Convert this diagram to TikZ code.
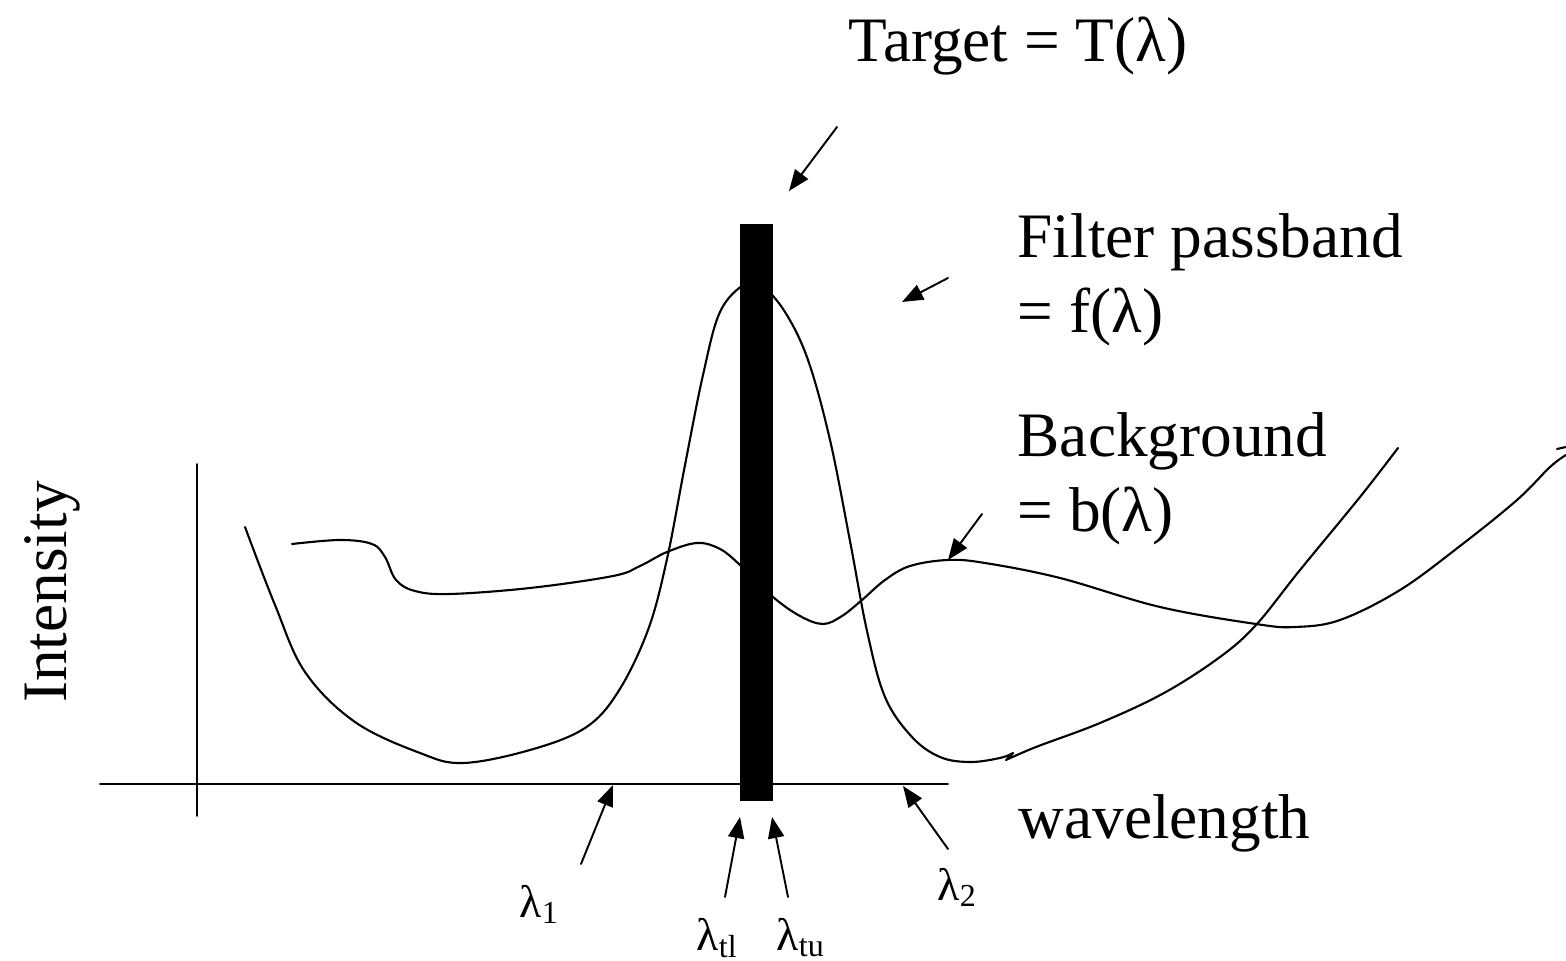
\documentclass[tikz,border=0pt]{standalone}
\usepackage{fontspec}
\setmainfont{Liberation Serif}
\usetikzlibrary{arrows.meta}
\tikzset{
  big/.style={font=\fontsize{18}{20}\selectfont, inner sep=0pt},
  small/.style={font=\fontsize{13}{15}\selectfont, inner sep=0pt},
  pointer/.style={-{Triangle[length=6pt,width=4.6pt]}, line width=0.55pt},
  curve/.style={line width=0.6pt},
}
\begin{document}
\begin{tikzpicture}[x=0.01cm, y=-0.01cm, line join=round, line cap=round]
	\useasboundingbox (0,0) rectangle (1566,961);
	% axes
	\draw[line width=0.5pt] (100,784)--(948,784);
	\draw[line width=0.5pt] (197,464)--(197,816);
	% filter passband f
	\draw[curve] plot[smooth, tension=0.6] coordinates {(245,527) (275,605) (305,672) (355,722) (420,753) (463,763) (530,750) (585,728) (618,692) (648,630) (667,559) (685,465) (703,375) (720,312) (745,284) (762,286) (785,312) (808,360) (830,440) (850,541) (867,631) (885,697) (912,737) (940,757) (970,762) (1000,758) (1013,753)}
		-- (1006,760)
		plot[smooth, tension=0.6] coordinates {(1006,760) (1036,747) (1100,723) (1164,693) (1220,657) (1256,625) (1300,570) (1360,497) (1398,448)};
	% background b
	\draw[curve] plot[smooth, tension=0.6] coordinates {(292,544) (340,540) (372,544) (385,557) (396,580) (415,591) (450,594) (530,588) (613,576) (640,566) (667,552) (697,543) (720,549) (740,565) (773,597) (800,616) (823,624) (842,616) (862,600) (885,580) (910,566) (948,560) (985,563) (1060,578) (1160,607) (1256,624) (1295,627) (1340,620) (1400,590) (1460,546) (1517,500) (1550,467) (1566,455)};
	\draw[curve] (1557,449)--(1566,447);
	% target band
	\node[fill, inner sep=0pt, minimum width=0.33cm, minimum height=5.77cm] (band) at (756.5,512.5) {};
	% labels
	\node[big, anchor=base west] (target) at (848,62) {Target = T(λ)};
	\node[big, anchor=base west] (filter) at (1017,258) {Filter passband};
	\node[big, anchor=base west] (filtereq) at (1017,333) {= f(λ)};
	\node[big, anchor=base west] (backgr) at (1017,457) {Background};
	\node[big, anchor=base west] (backgreq) at (1017,532) {= b(λ)};
	\node[big, anchor=base west] (wave) at (1018,838) {wavelength};
	\node[big, anchor=base, rotate=90] (inten) at (67,592) {Intensity};
	\node[small, anchor=base west] (lone) at (519,917) {λ\textsubscript{1}};
	\node[small, anchor=base west] (ltl) at (696,950) {λ\textsubscript{tl}};
	\node[small, anchor=base west] (ltu) at (776,950) {λ\textsubscript{tu}};
	\node[small, anchor=base west] (ltwo) at (937,900) {λ\textsubscript{2}};
	% pointers
	\coordinate (tgtTail) at (837,127);  \coordinate (tgtTip) at (789,191);
	\coordinate (filTail) at (948,278);  \coordinate (filTip) at (902,302);
	\coordinate (bgTail) at (982,514);   \coordinate (bgTip) at (948,560);
	\coordinate (loneTail) at (581,864); \coordinate (loneTip) at (613,785);
	\coordinate (ltlTail) at (725,897);  \coordinate (ltlTip) at (740,817);
	\coordinate (ltuTail) at (788,897);  \coordinate (ltuTip) at (772,817);
	\coordinate (ltwoTail) at (948,849); \coordinate (ltwoTip) at (903,786);
	\draw[pointer] (tgtTail)--(tgtTip);
	\draw[pointer] (filTail)--(filTip);
	\draw[pointer] (bgTail)--(bgTip);
	\draw[pointer] (loneTail)--(loneTip);
	\draw[pointer] (ltlTail)--(ltlTip);
	\draw[pointer] (ltuTail)--(ltuTip);
	\draw[pointer] (ltwoTail)--(ltwoTip);
\end{tikzpicture}
\end{document}
